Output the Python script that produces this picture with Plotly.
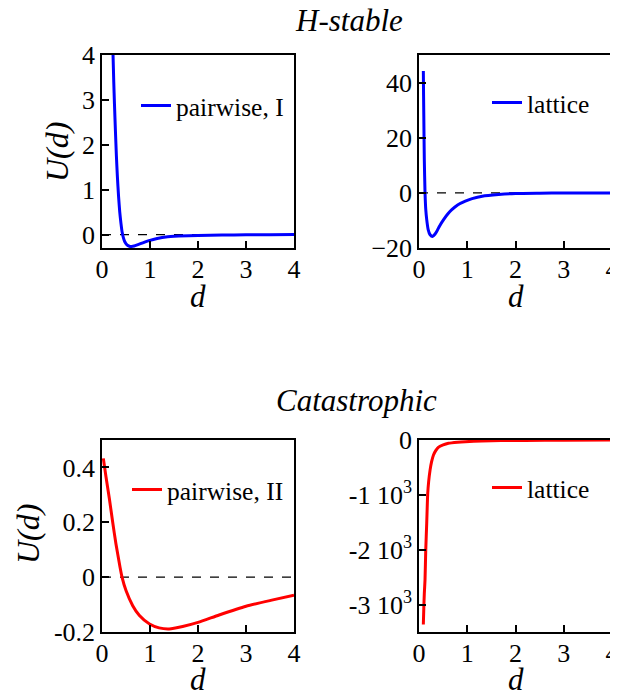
import plotly.graph_objects as go

# ---------------- data ----------------
# H-stable, pairwise I
d_pair1 = [0.22, 0.23, 0.245, 0.26, 0.28, 0.3, 0.32, 0.345, 0.37, 0.395, 0.42, 0.445, 0.47, 0.52,
           0.57, 0.62, 0.67, 0.75, 0.85, 1.0, 1.15, 1.33, 1.6, 2.0, 2.5, 3.0, 3.5, 4.0]
u_pair1 = [4.3, 4.0, 3.4, 2.9, 2.3, 1.75, 1.3, 0.85, 0.5, 0.25, 0.05, -0.07, -0.15, -0.23,
           -0.26, -0.265, -0.255, -0.225, -0.185, -0.13, -0.09, -0.055, -0.035, -0.02, -0.01,
           -0.006, -0.003, -0.002]

# H-stable, lattice
d_lat1 = [0.09, 0.095, 0.1, 0.11, 0.125, 0.14, 0.16, 0.19, 0.23, 0.28, 0.33, 0.37, 0.43, 0.51,
          0.6, 0.68, 0.8, 0.96, 1.1, 1.31, 1.65, 2.0, 2.5, 3.0, 3.5, 4.0]
u_lat1 = [44.2, 35, 27, 12.1, 0, -6, -9.7, -13.3, -15.2, -15.8, -15.0, -13.9, -11.9, -9.7,
          -7.6, -6.1, -4.4, -3.0, -2.1, -1.2, -0.6, -0.24, -0.12, -0.06, -0.03, -0.01]

# Catastrophic, pairwise II
d_pair2 = [0.028, 0.083, 0.153, 0.222, 0.29, 0.375, 0.417, 0.5, 0.64, 0.78, 0.99, 1.19, 1.4,
           1.68, 2.0, 2.44, 3.0, 3.56, 4.0]
u_pair2 = [0.433, 0.366, 0.287, 0.201, 0.122, 0.037, 0.0, -0.049, -0.104, -0.140, -0.171, -0.185,
           -0.189, -0.180, -0.165, -0.138, -0.106, -0.083, -0.066]

# Catastrophic, lattice
d_lat2 = [0.09, 0.1, 0.11, 0.125, 0.14, 0.16, 0.18, 0.2, 0.23, 0.26, 0.3, 0.35, 0.4, 0.5, 0.61,
          0.8, 0.96, 1.3, 1.7, 2.2, 3.0, 4.0]
u_lat2 = [-3364, -3050, -2800, -2545, -2000, -1515, -988, -760, -545, -400, -273, -190, -133, -90,
          -60, -40, -30, -18, -11, -7, -4, -2]

x_ticks = [0, 1, 2, 3, 4]
y_ticks_tl = [0, 1, 2, 3, 4]
y_ticks_tr = [-20, 0, 20, 40]
y_ticks_bl = [-0.2, 0, 0.2, 0.4]
y_ticks_bl_text = ["-0.2", "0", "0.2", "0.4"]
y_ticks_br = [-3000, -2000, -1000, 0]
y_ticks_br_text = ["-3 10<sup>3</sup>", "-2 10<sup>3</sup>", "-1 10<sup>3</sup>", "0"]

titles = ["H-stable", "Catastrophic"]
x_label = "d"
y_label = "U(d)"

# ---------------- figure ----------------
# the page body adds an 8 px margin, so the figure is 8 px smaller on each axis
OFF = 8
W, H = 618 - OFF, 698 - OFF
FONT = "Liberation Serif, Times New Roman, serif"
BLUE = "#0000ff"
RED = "#ff0000"


def px(x):
    return (x - OFF) / W


def py(y):
    return 1 - (y - OFF) / H


fig = go.Figure()

panels = [
    (d_pair1, u_pair1, "pairwise, I", BLUE, "x", "y", "legend"),
    (d_lat1, u_lat1, "lattice", BLUE, "x2", "y2", "legend2"),
    (d_pair2, u_pair2, "pairwise, II", RED, "x3", "y3", "legend3"),
    (d_lat2, u_lat2, "lattice", RED, "x4", "y4", "legend4"),
]

for i, (xs, ys, name, col, xa, ya, lg) in enumerate(panels):
    if i != 3:
        fig.add_trace(go.Scatter(x=[0, 4], y=[0, 0], mode="lines", xaxis=xa, yaxis=ya,
                                 line=dict(color="black", width=1.2, dash="dash"),
                                 showlegend=False, hoverinfo="skip"))
    fig.add_trace(go.Scatter(x=xs, y=ys, mode="lines", name=name, xaxis=xa, yaxis=ya,
                             line=dict(color=col, width=3, shape="spline", smoothing=0.6),
                             legend=lg))

axis_common = dict(showline=True, linecolor="black", linewidth=1.5, mirror=True,
                   ticks="inside", ticklen=7, tickwidth=1.5, tickcolor="black",
                   showgrid=False, zeroline=False, automargin=False,
                   ticklabeloverflow="allow",
                   tickfont=dict(family=FONT, size=26, color="black"))
xaxis_common = dict(range=[0, 4], tickvals=x_ticks, ticklabelstandoff=-3, **axis_common)

lx, rx = [px(102), px(294)], [px(419), px(612)]
ty, by = [py(248), py(55)], [py(632), py(440)]

layout = dict(
    width=W, height=H, margin=dict(l=0, r=0, t=0, b=0, autoexpand=False),
    plot_bgcolor="white", paper_bgcolor="white",
    xaxis=dict(domain=lx, anchor="y", **xaxis_common),
    yaxis=dict(domain=ty, range=[-0.3, 4], tickvals=y_ticks_tl, anchor="x", **axis_common),
    xaxis2=dict(domain=rx, anchor="y2", **xaxis_common),
    yaxis2=dict(domain=ty, range=[-20, 50], tickvals=y_ticks_tr, anchor="x2", **axis_common),
    xaxis3=dict(domain=lx, anchor="y3", **xaxis_common),
    yaxis3=dict(domain=by, range=[-0.2, 0.5], tickvals=y_ticks_bl, ticktext=y_ticks_bl_text,
                anchor="x3", **axis_common),
    xaxis4=dict(domain=rx, anchor="y4", **xaxis_common),
    yaxis4=dict(domain=by, range=[-3500, 0], tickvals=y_ticks_br, ticktext=y_ticks_br_text,
                anchor="x4", **axis_common),
)

legend_common = dict(bgcolor="rgba(0,0,0,0)", borderwidth=0,
                     font=dict(family=FONT, size=25.5, color="black"),
                     xanchor="left", yanchor="middle", itemwidth=30)
layout["legend"] = dict(x=px(136), y=py(106), **legend_common)
layout["legend2"] = dict(x=px(487), y=py(103), **legend_common)
layout["legend3"] = dict(x=px(127), y=py(490), **legend_common)
layout["legend4"] = dict(x=px(487), y=py(488), **legend_common)

fig.update_layout(**layout)

title_font = dict(family=FONT, size=31, color="black", style="italic")
label_font = dict(family=FONT, size=31, color="black", style="italic")
ylabel_font = dict(family=FONT, size=32, color="black", style="italic")


def note(text, x, y, font, angle=0):
    fig.add_annotation(text=text, x=px(x), y=py(y), xref="paper", yref="paper",
                       showarrow=False, xanchor="center", yanchor="middle",
                       textangle=angle, font=font)


note(titles[0], 349, 20, title_font)
note(titles[1], 356, 400, title_font)
# axis titles
note(x_label, 198, 297, label_font)
note(x_label, 515.5, 297, label_font)
note(x_label, 198, 679, label_font)
note(x_label, 515.5, 679, label_font)
note(y_label, 57, 152, ylabel_font, -90)
note(y_label, 28, 534, ylabel_font, -90)

fig.write_html("out.html")
